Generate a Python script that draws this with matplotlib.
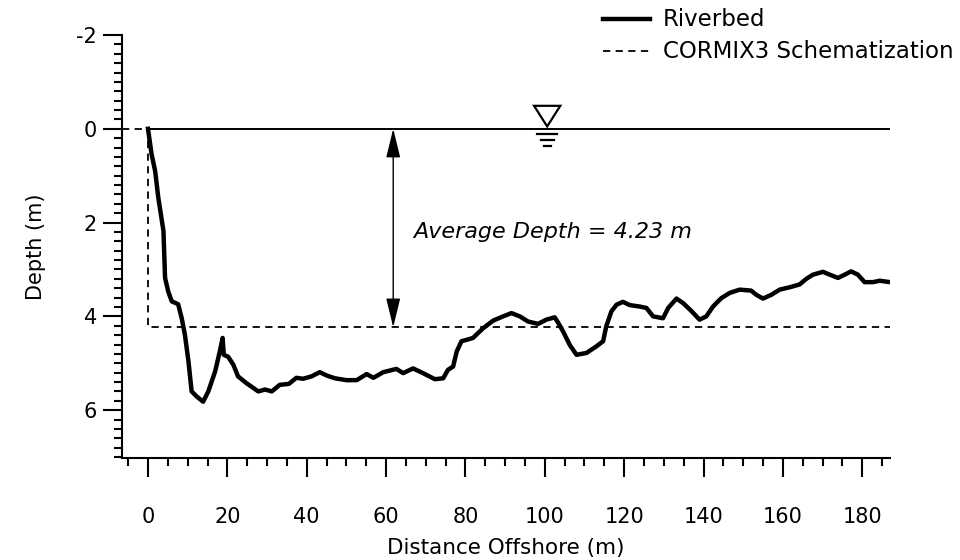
import matplotlib
matplotlib.use("Agg")
import matplotlib.pyplot as plt
from matplotlib.lines import Line2D
from matplotlib.patches import Polygon
from matplotlib.ticker import MultipleLocator

plt.rcParams["axes.unicode_minus"] = False

# Riverbed profile: distance offshore (m) and depth below water surface (m)
distance = [0.0, 0.9, 1.8, 2.6, 3.9, 4.3, 5.1, 6.0, 7.6, 8.5, 9.3, 10.2, 11.0,
            12.3, 13.9, 15.2, 16.9, 18.1, 18.8, 19.1, 20.2, 21.5, 22.7, 24.9,
            27.8, 29.5, 31.2, 33.2, 35.5, 37.4, 39.1, 41.2, 43.3, 45.0, 47.1,
            50.0, 52.6, 55.1, 56.8, 59.3, 62.6, 64.3, 66.8, 69.3, 72.3, 74.4,
            75.6, 76.9, 77.8, 79.0, 80.3, 81.9, 84.5, 87.0, 89.5, 91.6, 93.7,
            95.8, 98.3, 100.4, 102.5, 103.4, 104.6, 106.3, 108.0, 110.5, 113.0,
            114.7, 115.5, 116.8, 118.1, 119.7, 121.4, 123.9, 125.6, 127.3,
            129.8, 131.1, 133.2, 134.9, 137.0, 139.0, 140.7, 142.4, 144.5,
            146.6, 149.1, 152.0, 153.3, 155.0, 157.1, 159.2, 161.7, 164.2,
            165.9, 167.6, 170.1, 171.8, 173.9, 175.6, 177.2, 178.9, 180.6,
            182.7, 184.4, 187.0]
depth = [0.0, 0.54, 0.90, 1.47, 2.18, 3.18, 3.47, 3.68, 3.74, 4.04, 4.39, 4.96,
         5.60, 5.71, 5.82, 5.60, 5.18, 4.75, 4.46, 4.82, 4.86, 5.03, 5.28, 5.43,
         5.60, 5.56, 5.60, 5.46, 5.44, 5.31, 5.33, 5.28, 5.19, 5.26, 5.32,
         5.36, 5.36, 5.23, 5.31, 5.19, 5.12, 5.21, 5.11, 5.21, 5.34, 5.32,
         5.14, 5.07, 4.75, 4.53, 4.50, 4.46, 4.25, 4.09, 4.00, 3.93, 4.00,
         4.11, 4.16, 4.07, 4.02, 4.14, 4.32, 4.61, 4.82, 4.78, 4.64, 4.53,
         4.21, 3.89, 3.75, 3.69, 3.76, 3.79, 3.82, 4.00, 4.04, 3.82, 3.62,
         3.72, 3.89, 4.07, 4.00, 3.79, 3.61, 3.50, 3.43, 3.45, 3.54, 3.62,
         3.54, 3.43, 3.38, 3.32, 3.20, 3.11, 3.05, 3.11, 3.18, 3.11, 3.04,
         3.11, 3.27, 3.27, 3.24, 3.27]

# Schematized (rectangular) cross-section used by CORMIX3
avg_depth = 4.23
schem_x = [-6.55, 0.0, 0.0, 187.0]
schem_y = [0.0, 0.0, avg_depth, avg_depth]

# Water surface extent and marker position
surface_x = [0.0, 187.0]
marker_x = 100.6
arrow_x = 61.8

x_ticks = [0, 20, 40, 60, 80, 100, 120, 140, 160, 180]
y_ticks = [-2, 0, 2, 4, 6]

fig = plt.figure(figsize=(9.6, 5.6), dpi=100)
ax = fig.add_axes([122 / 960, 1 - 458 / 560, 768 / 960, 423 / 560])

ax.plot(schem_x, schem_y, color="black", lw=1.3, ls=(0, (4, 3)))
ax.plot(surface_x, [0, 0], color="black", lw=1.4)
ax.plot(distance, depth, color="black", lw=3.2, solid_joinstyle="round")

# water-surface symbol
tri = Polygon([[marker_x - 3.3, -0.49], [marker_x + 3.3, -0.49], [marker_x, -0.05]],
              closed=True, facecolor="white", edgecolor="black", lw=1.6, zorder=5)
ax.add_patch(tri)
for yy, hw in [(0.11, 2.6), (0.23, 1.6), (0.36, 0.85)]:
    ax.plot([marker_x - hw, marker_x + hw], [yy, yy], color="black", lw=1.6)

# average-depth dimension arrow
ax.annotate("", xy=(arrow_x, avg_depth), xytext=(arrow_x, 0.0),
            arrowprops=dict(arrowstyle="<|-|>,head_length=0.9,head_width=0.22",
                            mutation_scale=20, color="black", lw=1.0,
                            shrinkA=0, shrinkB=0))
ax.text(66.8, 2.21, "Average Depth = 4.23 m", style="italic", fontsize=16,
        ha="left", va="center")

ax.set_xlim(-6.55, 187.0)
ax.set_ylim(7.02, -1.98)
ax.set_xticks(x_ticks)
ax.set_yticks(y_ticks)
ax.xaxis.set_minor_locator(MultipleLocator(5))
ax.yaxis.set_minor_locator(MultipleLocator(0.2))
ax.tick_params(which="major", length=14, width=1.5, labelsize=15)
ax.tick_params(which="minor", length=6, width=1.5)
ax.tick_params(axis="x", which="major", pad=21)
ax.tick_params(axis="y", which="major", pad=4)
for side in ("top", "right"):
    ax.spines[side].set_visible(False)
for side in ("left", "bottom"):
    ax.spines[side].set_linewidth(1.5)

ax.set_xlabel("Distance Offshore (m)", fontsize=15.5, labelpad=8)
ax.set_ylabel("Depth (m)", fontsize=15, labelpad=22)

# legend entries placed in figure pixels at the top right
fig.add_artist(Line2D([603 / 960, 650 / 960], [1 - 19 / 560, 1 - 19 / 560],
                      color="black", lw=3.2))
fig.add_artist(Line2D([603 / 960, 650 / 960], [1 - 51 / 560, 1 - 51 / 560],
                      color="black", lw=1.3, ls=(0, (4, 3))))
fig.text(663 / 960, 1 - 20 / 560, "Riverbed", fontsize=16.5, va="center", ha="left")
fig.text(663 / 960, 1 - 52 / 560, "CORMIX3 Schematization", fontsize=16.5,
         va="center", ha="left")

fig.savefig("out.png", dpi=100)
